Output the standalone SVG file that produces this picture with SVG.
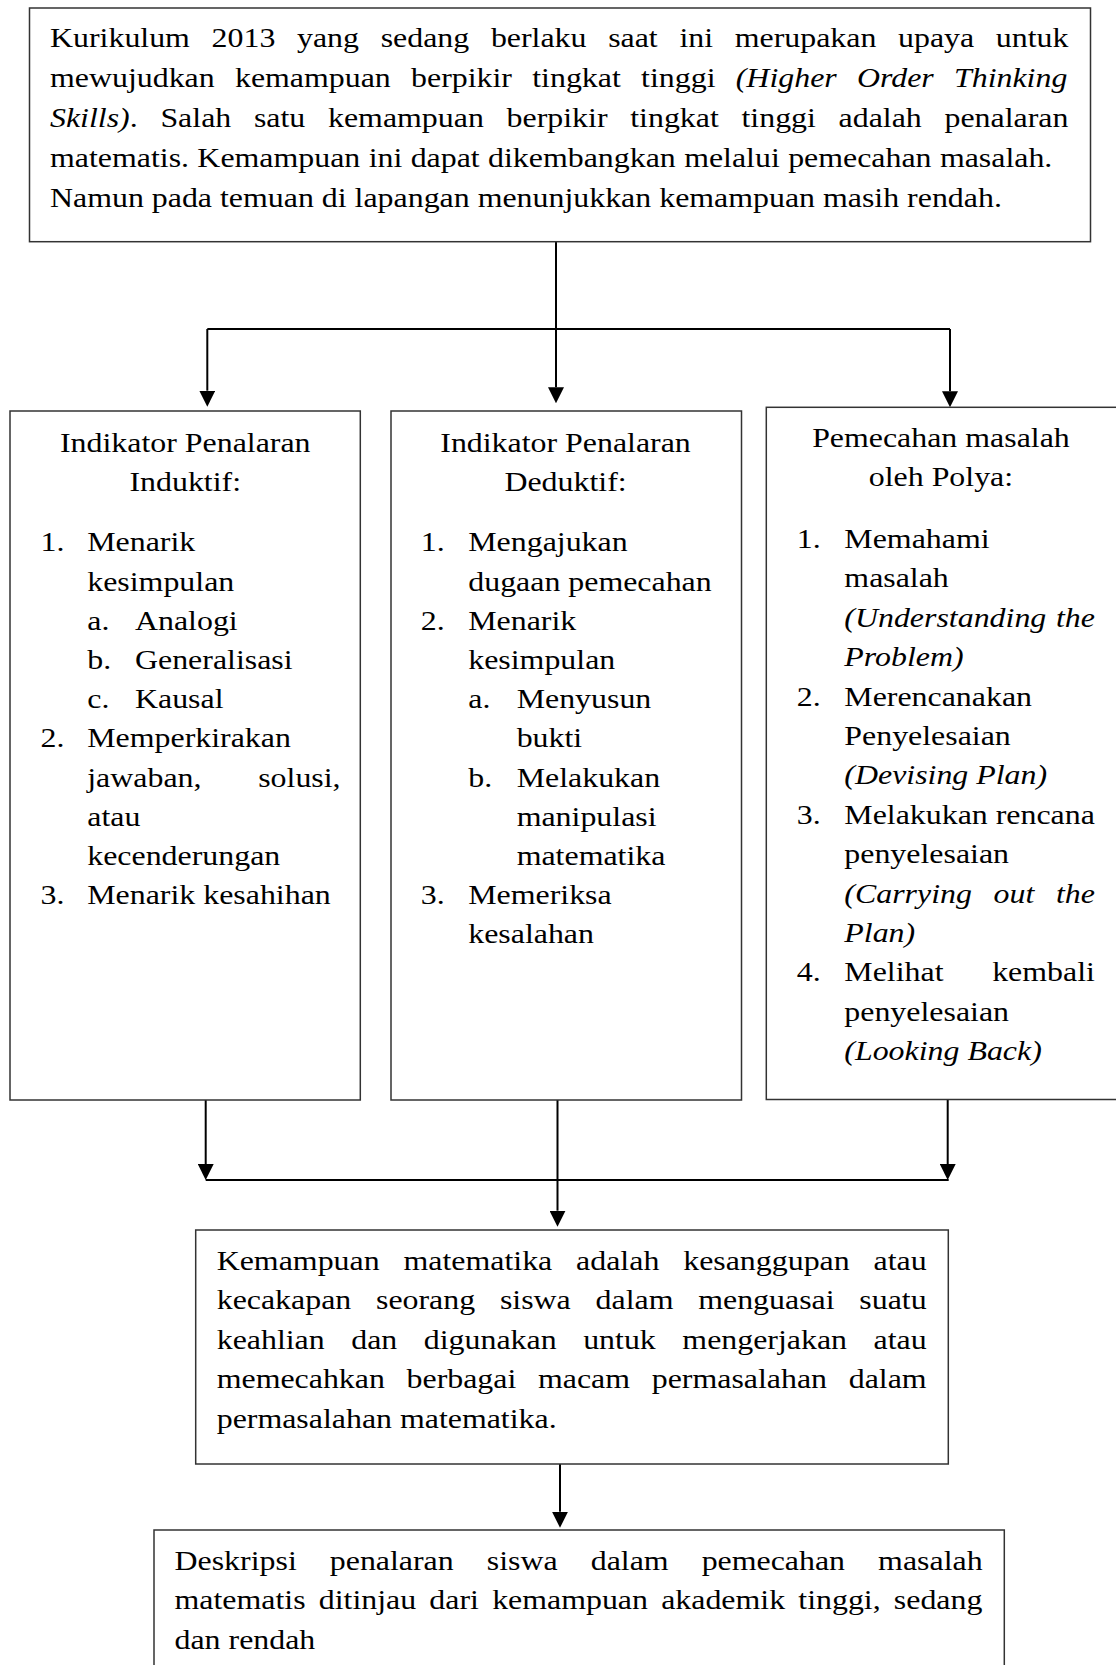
<svg xmlns="http://www.w3.org/2000/svg" width="1116" height="1665" viewBox="0 0 1116 1665">
<style>
.box{fill:#fff;stroke:#333;stroke-width:1.5}
.t{font-family:"Liberation Serif","Times New Roman",serif;font-size:28px;fill:#000}
.i{font-style:italic}
.c{text-anchor:middle}
.conn{stroke:#000;stroke-width:2;fill:none}
</style>
<defs>
<marker id="ah" viewBox="0 0 16 16" markerWidth="16" markerHeight="16" refX="0" refY="8" orient="auto" markerUnits="userSpaceOnUse"><path d="M0,0 L16,8 L0,16 z" fill="#000"/></marker>
</defs>
<rect width="1116" height="1665" fill="#fff"/>

<g id="connectors">
<path class="conn" d="M556,241.7 V387.3" marker-end="url(#ah)"/>
<path class="conn" d="M207.3,329 H950"/>
<path class="conn" d="M207.3,329 V390.7" marker-end="url(#ah)"/>
<path class="conn" d="M950,329 V391.3" marker-end="url(#ah)"/>
<path class="conn" d="M205.7,1100 V1164" marker-end="url(#ah)"/>
<path class="conn" d="M947.7,1100 V1164" marker-end="url(#ah)"/>
<path class="conn" d="M205.7,1180 H948.7"/>
<path class="conn" d="M557.5,1100 V1210.7" marker-end="url(#ah)"/>
<path class="conn" d="M560,1464 V1511.7" marker-end="url(#ah)"/>
</g>

<g id="node-kurikulum">
<rect class="box" x="29.5" y="8" width="1061" height="233.7"/>
<g transform="scale(1.1393,1)">
<text class="t" x="43.89" y="47" style="word-spacing:12.02px">Kurikulum 2013 yang sedang berlaku saat ini merupakan upaya untuk</text>
<text class="t" x="43.89" y="87" style="word-spacing:10.79px">mewujudkan kemampuan berpikir tingkat tinggi <tspan class="i">(Higher Order Thinking</tspan></text>
<text class="t" x="43.89" y="127" style="word-spacing:12.94px"><tspan class="i">Skills)</tspan>. Salah satu kemampuan berpikir tingkat tinggi adalah penalaran</text>
<text class="t" x="43.89" y="167" style="word-spacing:0.34px">matematis. Kemampuan ini dapat dikembangkan melalui pemecahan masalah.</text>
<text class="t" x="43.89" y="207">Namun pada temuan di lapangan menunjukkan kemampuan masih rendah.</text>
</g>
</g>

<g id="node-induktif">
<rect class="box" x="10" y="411" width="350.3" height="689"/>
<g transform="scale(1.1393,1)">
<text class="t c" x="162.6" y="452">Indikator Penalaran</text>
<text class="t c" x="162.6" y="491">Induktif:</text>
<text class="t" x="35.5" y="551.5">1.</text><text class="t" x="76.6" y="551.5">Menarik</text>
<text class="t" x="76.6" y="590.7">kesimpulan</text>
<text class="t" x="76.6" y="629.9">a.</text><text class="t" x="118.5" y="629.9">Analogi</text>
<text class="t" x="76.6" y="669.1">b.</text><text class="t" x="118.5" y="669.1">Generalisasi</text>
<text class="t" x="76.6" y="708.3">c.</text><text class="t" x="118.5" y="708.3">Kausal</text>
<text class="t" x="35.5" y="747.5">2.</text><text class="t" x="76.6" y="747.5">Memperkirakan</text>
<text class="t" x="76.6" y="786.7" style="word-spacing:42.8px">jawaban, solusi,</text>
<text class="t" x="76.6" y="825.9">atau</text>
<text class="t" x="76.6" y="865.1">kecenderungan</text>
<text class="t" x="35.5" y="904.3">3.</text><text class="t" x="76.6" y="904.3">Menarik kesahihan</text>
</g>
</g>

<g id="node-deduktif">
<rect class="box" x="391" y="411" width="350.5" height="689"/>
<g transform="scale(1.1393,1)">
<text class="t c" x="496.4" y="452">Indikator Penalaran</text>
<text class="t c" x="496.4" y="491">Deduktif:</text>
<text class="t" x="369.3" y="551.5">1.</text><text class="t" x="411" y="551.5">Mengajukan</text>
<text class="t" x="411" y="590.7">dugaan pemecahan</text>
<text class="t" x="369.3" y="629.9">2.</text><text class="t" x="411" y="629.9">Menarik</text>
<text class="t" x="411" y="669.1">kesimpulan</text>
<text class="t" x="411" y="708.3">a.</text><text class="t" x="453.5" y="708.3">Menyusun</text>
<text class="t" x="453.5" y="747.5">bukti</text>
<text class="t" x="411" y="786.7">b.</text><text class="t" x="453.5" y="786.7">Melakukan</text>
<text class="t" x="453.5" y="825.9">manipulasi</text>
<text class="t" x="453.5" y="865.1">matematika</text>
<text class="t" x="369.3" y="904.3">3.</text><text class="t" x="411" y="904.3">Memeriksa</text>
<text class="t" x="411" y="943.5">kesalahan</text>
</g>
</g>

<g id="node-polya">
<rect class="box" x="766.3" y="407.3" width="360" height="692.2"/>
<g transform="scale(1.1393,1)">
<text class="t c" x="825.9" y="447">Pemecahan masalah</text>
<text class="t c" x="825.9" y="486">oleh Polya:</text>
<text class="t" x="699.3" y="548">1.</text><text class="t" x="741.1" y="548">Memahami</text>
<text class="t" x="741.1" y="587.4">masalah</text>
<text class="t i" x="741.1" y="626.8" style="word-spacing:1.5px">(Understanding the</text>
<text class="t i" x="741.1" y="666.2">Problem)</text>
<text class="t" x="699.3" y="705.6">2.</text><text class="t" x="741.1" y="705.6">Merencanakan</text>
<text class="t" x="741.1" y="745">Penyelesaian</text>
<text class="t i" x="741.1" y="784.4">(Devising Plan)</text>
<text class="t" x="699.3" y="823.8">3.</text><text class="t" x="741.1" y="823.8">Melakukan rencana</text>
<text class="t" x="741.1" y="863.2">penyelesaian</text>
<text class="t i" x="741.1" y="902.6" style="word-spacing:12px">(Carrying out the</text>
<text class="t i" x="741.1" y="942">Plan)</text>
<text class="t" x="699.3" y="981.4">4.</text><text class="t" x="741.1" y="981.4" style="word-spacing:35.7px">Melihat kembali</text>
<text class="t" x="741.1" y="1020.8">penyelesaian</text>
<text class="t i" x="741.1" y="1060.2">(Looking Back)</text>
</g>
</g>

<g id="node-kemampuan">
<rect class="box" x="195.7" y="1230" width="752.6" height="234"/>
<g transform="scale(1.1393,1)">
<text class="t" x="190.2" y="1270" style="word-spacing:13.97px">Kemampuan matematika adalah kesanggupan atau</text>
<text class="t" x="190.2" y="1309.5" style="word-spacing:14.74px">kecakapan seorang siswa dalam menguasai suatu</text>
<text class="t" x="190.2" y="1349" style="word-spacing:16.3px">keahlian dan digunakan untuk mengerjakan atau</text>
<text class="t" x="190.2" y="1388.5" style="word-spacing:12.03px">memecahkan berbagai macam permasalahan dalam</text>
<text class="t" x="190.2" y="1428">permasalahan matematika.</text>
</g>
</g>

<g id="node-deskripsi">
<rect class="box" x="154" y="1530" width="850.3" height="200"/>
<g transform="scale(1.1393,1)">
<text class="t" x="153.2" y="1570" style="word-spacing:22.02px">Deskripsi penalaran siswa dalam pemecahan masalah</text>
<text class="t" x="153.2" y="1609.5" style="word-spacing:4.58px">matematis ditinjau dari kemampuan akademik tinggi, sedang</text>
<text class="t" x="153.2" y="1649">dan rendah</text>
</g>
</g>
</svg>
